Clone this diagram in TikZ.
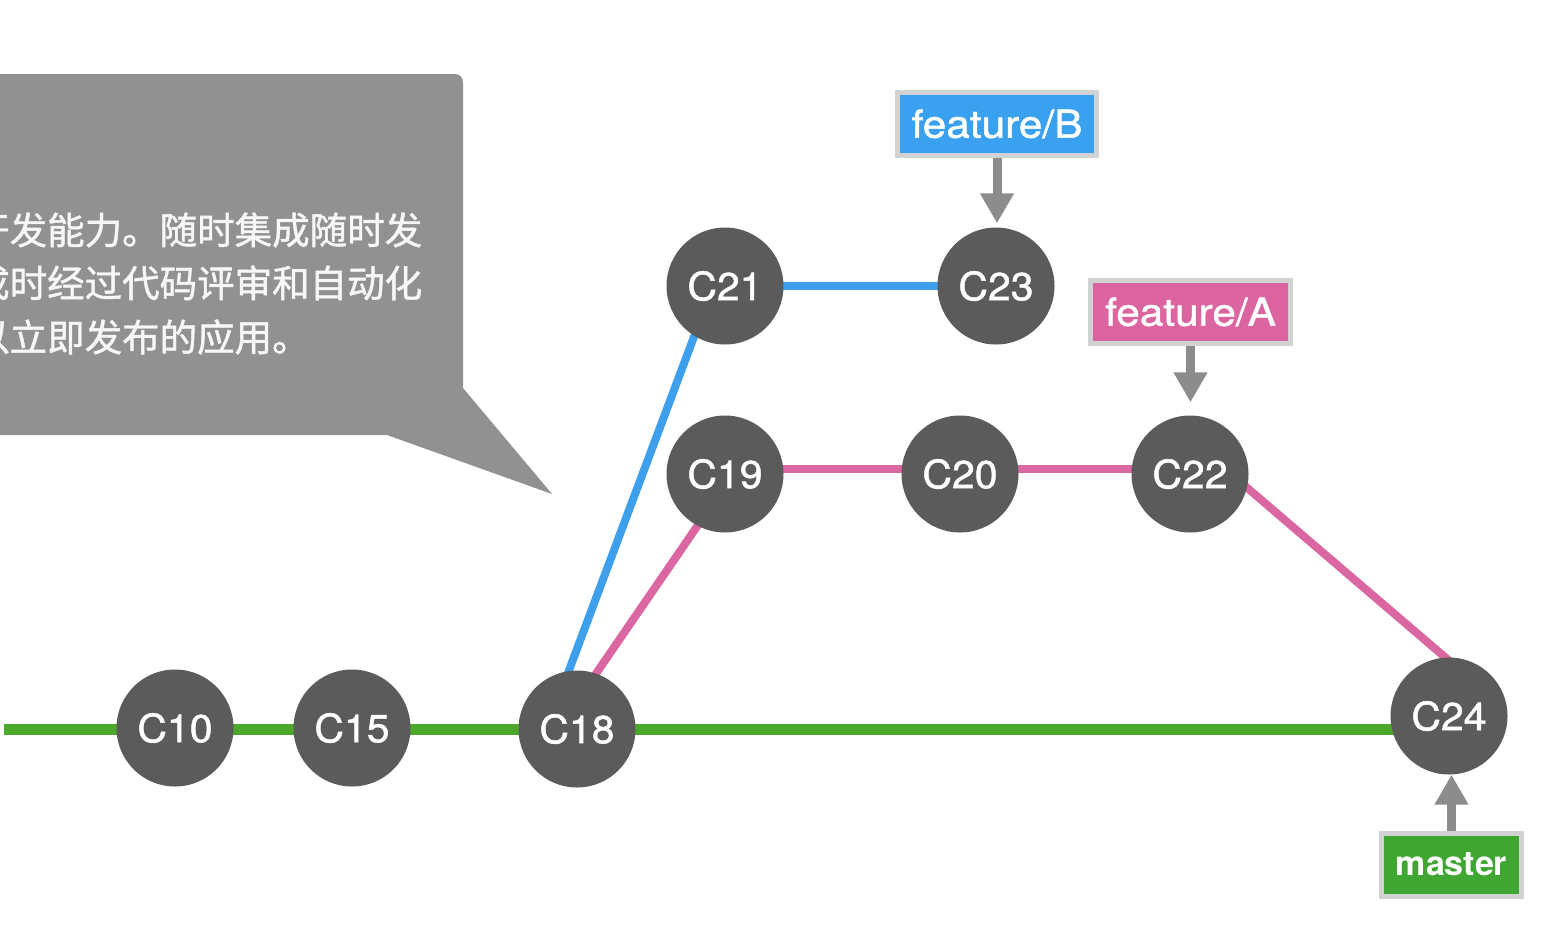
\documentclass[tikz,border=0pt]{standalone}
\usepackage{fontspec}
\setmainfont{TeX Gyre Heros}
\newfontfamily\labfont[FakeStretch=1.05,FakeBold=1.2]{TeX Gyre Heros}
\newfontfamily\branchfont[FakeStretch=1.1,FakeBold=1.2]{TeX Gyre Heros}
\newfontfamily\cjk[FakeBold=1.2]{Noto Sans CJK SC}
\usetikzlibrary{arrows.meta}
\definecolor{nodegray}{RGB}{91,91,91}
\definecolor{gitgreen}{RGB}{76,168,42}
\definecolor{gitblue}{RGB}{62,160,236}
\definecolor{gitpink}{RGB}{218,102,162}
\definecolor{arrowgray}{RGB}{140,140,140}
\definecolor{callgray}{RGB}{145,145,145}
\definecolor{boxborder}{RGB}{210,210,210}
\definecolor{labgreen}{RGB}{64,166,50}
\definecolor{labblue}{RGB}{58,160,240}
\definecolor{labpink}{RGB}{220,100,160}
\pgfdeclarelayer{bg}
\pgfsetlayers{bg,main}
\begin{document}
\begin{tikzpicture}[x=1pt,y=-1pt,
  commit/.style={circle, fill=nodegray, minimum size=117pt, inner sep=0pt, text=white, font=\labfont\fontsize{39}{39}\selectfont},
  branchlab/.style={draw=boxborder, line width=5pt, inner sep=0pt, minimum height=63pt, text=white, font=\branchfont\fontsize{38.5}{38.5}\selectfont},
  pointer/.style={draw=arrowgray, line width=9pt, -{Triangle[width=32pt,length=30pt]}},
  greenedge/.style={draw=gitgreen, line width=11pt},
  blueedge/.style={draw=gitblue, line width=8pt},
  pinkedge/.style={draw=gitpink, line width=8pt},
  calltext/.style={anchor=west, inner sep=0pt, text=white!94!gray, font=\cjk\fontsize{37.5}{37.5}\selectfont}]
\useasboundingbox (0,0) rectangle (1563,938);
\begin{scope}
\clip (0,0) rectangle (1563,938);
% callout
\fill[callgray] (-30,74) -- (455,74) arc[start angle=-90, end angle=0, radius=8] -- (463,388) -- (552,494) -- (387,435) -- (-30,435) -- cycle;
\node[calltext] (t1) at (-28,230) {开发能力。随时集成随时发};
\node[calltext] (t2) at (-28,283) {成时经过代码评审和自动化};
\node[calltext] (t3) at (-28,337) {以立即发布的应用。};
\end{scope}

% commits
\node[commit] (C10) at (175,728) {C10};
\node[commit] (C15) at (352,728) {C15};
\node[commit] (C18) at (577,729) {C18};
\node[commit] (C21) at (725,286) {C21};
\node[commit] (C23) at (996,286) {C23};
\node[commit] (C19) at (725,474) {C19};
\node[commit] (C20) at (960,474) {C20};
\node[commit] (C22) at (1190,474) {C22};
\node[commit] (C24) at (1449,716) {C24};

\coordinate (gstart) at (4,729);
\begin{pgfonlayer}{bg}
\draw[greenedge] (gstart) -- (gstart -| C24.center);
\draw[blueedge] ([xshift=-30pt]C18.center) -- ([xshift=-12pt]C21.center);
\draw[blueedge] (C21.center) -- (C23.center);
\draw[pinkedge] ([xshift=-19pt]C18.center) -- ([xshift=8pt]C19.center);
\draw[pinkedge] ([yshift=5pt]C19.center) -- ([yshift=5pt]C22.center);
\draw[pinkedge] ([xshift=41pt]C22.center) -- ([xshift=11pt,yshift=46pt]C24.center);
\end{pgfonlayer}

% branch labels
\node[branchlab, fill=labblue, minimum width=199pt] (fB) at (997,124) {feature/B};
\node[branchlab, fill=labpink, minimum width=200pt] (fA) at (1190.5,312) {feature/A};
\node[branchlab, fill=labgreen, minimum width=140pt, font=\bfseries\fontsize{34}{34}\selectfont] (ms) at (1451.5,864.5) {master};

\begin{pgfonlayer}{bg}
\draw[pointer, shorten >=4pt] (fB.south) -- (fB.south |- C23.north);
\draw[pointer, shorten >=13pt] (fA.south) -- (fA.south |- C22.north);
\draw[pointer] (ms.north) -- (ms.north |- C24.south);
\end{pgfonlayer}
\end{tikzpicture}
\end{document}
